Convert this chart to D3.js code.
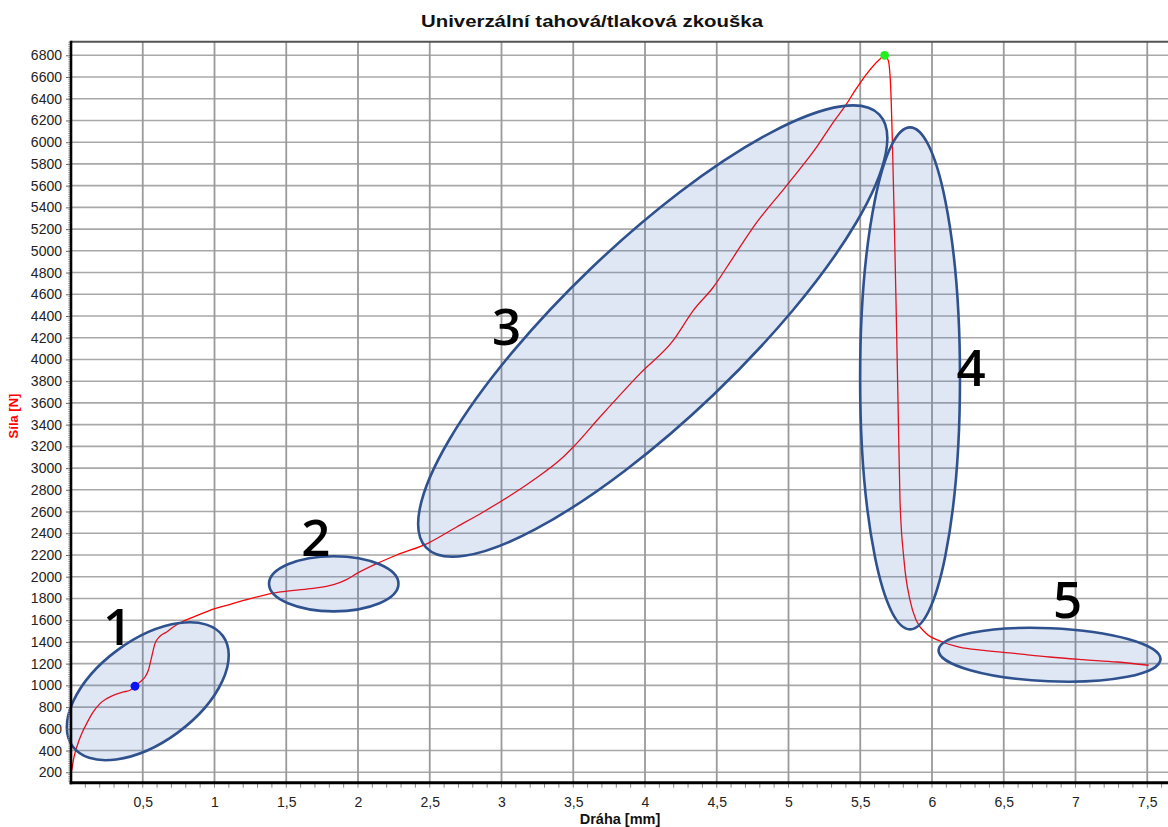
<!DOCTYPE html>
<html>
 <head>
  <title>Univerzální tahová/tlaková zkouška</title>
  <style>
  body { margin: 0; background: #fff; }
  svg { display: block; font-family: "Liberation Sans", Arial, sans-serif; }
  </style>
  <script src="https://cdnjs.cloudflare.com/ajax/libs/d3/7.8.3/d3.min.js"></script>
 </head>

 <body>
  <script>
   // measured curve: distance [mm] and force [N]
   const distance = [0.005, 0.021, 0.044, 0.075, 0.109, 0.155, 0.202, 0.249, 0.307, 0.365, 0.411, 0.446,
                     0.481, 0.516, 0.539, 0.562, 0.585, 0.62, 0.667, 0.713, 0.771, 0.852, 0.969, 1.085,
                     1.224, 1.46, 1.67, 1.83, 1.92, 1.99, 2.13, 2.27, 2.49, 2.688, 2.873, 3.22,
                     3.43, 3.50, 3.686, 3.965, 4.197, 4.337, 4.477, 4.616, 4.755, 4.988, 5.197, 5.313,
                     5.406, 5.464, 5.64, 5.67, 5.695, 5.712, 5.726, 5.737, 5.749, 5.763, 5.777, 5.805,
                     5.847, 5.89, 5.96, 6.06, 6.19, 6.36, 6.59, 6.82, 7.05, 7.29, 7.51];
   const force = [218, 341, 448, 556, 648, 755, 832, 878, 915, 939, 955, 992,
                  1031, 1077, 1139, 1261, 1384, 1452, 1491, 1537, 1583, 1629, 1691, 1737,
                  1790, 1860, 1891, 1927, 1973, 2028, 2120, 2200, 2310, 2458, 2596, 2888,
                  3102, 3194, 3470, 3870, 4176, 4452, 4667, 4943, 5219, 5603, 5956, 6185,
                  6354, 6477, 6769, 6800, 6753, 6507, 5895, 5281, 4544, 3624, 2703, 2151,
                  1783, 1599, 1477, 1406, 1353, 1323, 1292, 1261, 1237, 1215, 1185];

   // marked points
   const markers = [
    {x: 0.446, y: 992, color: "#0000ff"},
    {x: 5.67, y: 6800, color: "#22ee22"}
   ];

   const xTicks = [0.5, 1, 1.5, 2, 2.5, 3, 3.5, 4, 4.5, 5, 5.5, 6, 6.5, 7, 7.5];
   const yTicks = [200, 400, 600, 800, 1000, 1200, 1400, 1600, 1800, 2000, 2200, 2400, 2600,
                   2800, 3000, 3200, 3400, 3600, 3800, 4000, 4200, 4400, 4600, 4800, 5000,
                   5200, 5400, 5600, 5800, 6000, 6200, 6400, 6600, 6800];

   // annotation regions (centre in data units, half axes in mm, angle in degrees)
   const regionLabels = ["1", "2", "3", "4", "5"];
   const regionCentre = [[0.535, 946], [1.831, 1935], [4.054, 4261], [5.847, 3826], [6.819, 1282]];
   const regionAxes = [[0.650, 0.356], [0.451, 0.192], [2.184, 0.613], [0.348, 1.749], [0.774, 0.185]];
   const regionAngle = [-36.4, 0, -43.7, 0, 2.4];
   const labelPos = [[0.324, 1369], [1.707, 2188], [3.036, 4130], [6.272, 3753], [6.944, 1617]];

   const w = 1168;
   const h = 827;
   const pLeft = 71, pTop = 41.7, pBottom = 782.7, pRight = 1175;

   const xScale = d3.scaleLinear()
                    .domain([0, (pRight - pLeft) / 143.5])
                    .range([pLeft, pRight]);
   const yScale = d3.scaleLinear()
                    .domain([104, 6925])
                    .range([pBottom, pTop]);
   const mm = v => xScale(v) - xScale(0);

   const svg = d3.select("body")
                 .append("svg")
                 .attr("width", w)
                 .attr("height", h);

   svg.append("text")
      .attr("x", 421)
      .attr("y", 27)
      .attr("textLength", 342)
      .attr("lengthAdjust", "spacingAndGlyphs")
      .style("font-size", "17px")
      .style("font-weight", "bold")
      .attr("fill", "#111")
      .text("Univerzální tahová/tlaková zkouška");

   // grid
   svg.append("g")
      .selectAll("line")
      .data(yTicks)
      .enter()
      .append("line")
      .attr("x1", pLeft)
      .attr("x2", pRight)
      .attr("y1", d => yScale(d))
      .attr("y2", d => yScale(d))
      .attr("stroke", "#a8a8a8")
      .attr("stroke-width", 1.6);
   svg.append("g")
      .selectAll("line")
      .data(xTicks)
      .enter()
      .append("line")
      .attr("x1", d => xScale(d))
      .attr("x2", d => xScale(d))
      .attr("y1", pTop)
      .attr("y2", pBottom)
      .attr("stroke", "#9a9a9a")
      .attr("stroke-width", 1.8);

   // top frame
   svg.append("line")
      .attr("x1", pLeft).attr("x2", pRight)
      .attr("y1", pTop).attr("y2", pTop)
      .attr("stroke", "#555")
      .attr("stroke-width", 2);

   // curve
   const pts = distance.map((d, i) => [d, force[i]]);
   const line = d3.line()
                  .curve(d3.curveMonotoneX)
                  .x(d => xScale(d[0]))
                  .y(d => yScale(d[1]));
   svg.append("path")
      .datum(pts)
      .attr("d", line)
      .attr("fill", "none")
      .attr("stroke", "#ff0000")
      .attr("stroke-width", 1.3);

   svg.selectAll("circle.mark")
      .data(markers)
      .enter()
      .append("circle")
      .attr("class", "mark")
      .attr("cx", d => xScale(d.x))
      .attr("cy", d => yScale(d.y))
      .attr("r", 4.4)
      .attr("fill", d => d.color);

   // annotation ellipses
   svg.append("g")
      .selectAll("ellipse")
      .data(regionLabels)
      .enter()
      .append("ellipse")
      .attr("transform", (d, i) => "translate(" + xScale(regionCentre[i][0]) + "," + yScale(regionCentre[i][1]) + ") rotate(" + regionAngle[i] + ")")
      .attr("rx", (d, i) => mm(regionAxes[i][0]))
      .attr("ry", (d, i) => mm(regionAxes[i][1]))
      .attr("fill", "#4472c4")
      .attr("fill-opacity", 0.17)
      .attr("stroke", "#2f528f")
      .attr("stroke-width", 2.6);

   svg.append("g")
      .selectAll("text")
      .data(regionLabels)
      .enter()
      .append("text")
      .attr("x", (d, i) => xScale(labelPos[i][0]))
      .attr("y", (d, i) => yScale(labelPos[i][1]))
      .attr("text-anchor", "middle")
      .style("font-family", "'Open Sans', sans-serif")
      .style("font-size", "51px")
      .style("font-weight", 600)
      .attr("fill", "#000")
      .text(d => d);

   // axes
   const yAxis = d3.axisLeft(yScale)
                   .tickValues(yTicks)
                   .tickSize(5)
                   .tickPadding(4)
                   .tickFormat(d => d);
   const gy = svg.append("g")
                 .attr("transform", "translate(" + pLeft + ",0)")
                 .call(yAxis);
   gy.select(".domain").remove();
   gy.selectAll(".tick line").attr("stroke", "#666");
   gy.selectAll("text").style("font-size", "14px").attr("fill", "#222");

   const xAxis = d3.axisBottom(xScale)
                   .tickValues(xTicks)
                   .tickSize(0)
                   .tickPadding(14)
                   .tickFormat(d => String(d).replace(".", ","));
   const gx = svg.append("g")
                 .attr("transform", "translate(0," + pBottom + ")")
                 .call(xAxis);
   gx.select(".domain").remove();
   gx.selectAll("text").style("font-size", "14px").attr("fill", "#222");

   // minor ticks
   svg.append("g")
      .selectAll("line")
      .data(d3.range(1, 77).map(i => i / 10))
      .enter()
      .append("line")
      .attr("x1", d => xScale(d))
      .attr("x2", d => xScale(d))
      .attr("y1", pBottom)
      .attr("y2", pBottom + 5)
      .attr("stroke", "#888")
      .attr("stroke-width", 1);
   svg.append("g")
      .selectAll("line")
      .data(d3.range(6, 347).map(i => i * 20))
      .enter()
      .append("line")
      .attr("x1", pLeft - 3)
      .attr("x2", pLeft)
      .attr("y1", d => yScale(d))
      .attr("y2", d => yScale(d))
      .attr("stroke", "#999")
      .attr("stroke-width", 0.8);

   // axis lines
   svg.append("line")
      .attr("x1", pLeft).attr("x2", pLeft)
      .attr("y1", pTop - 1).attr("y2", pBottom + 1.5)
      .attr("stroke", "#000")
      .attr("stroke-width", 2.6);
   svg.append("line")
      .attr("x1", pLeft - 1.3).attr("x2", pRight)
      .attr("y1", pBottom).attr("y2", pBottom)
      .attr("stroke", "#000")
      .attr("stroke-width", 3);

   svg.append("text")
      .attr("transform", "translate(18,416) rotate(-90)")
      .attr("text-anchor", "middle")
      .style("font-size", "13px")
      .style("font-weight", "bold")
      .attr("fill", "#ff0000")
      .text("Síla [N]");

   svg.append("text")
      .attr("x", 620)
      .attr("y", 824)
      .attr("text-anchor", "middle")
      .style("font-size", "14.5px")
      .style("font-weight", "bold")
      .attr("fill", "#111")
      .text("Dráha [mm]");
  </script>
 </body>
</html>
